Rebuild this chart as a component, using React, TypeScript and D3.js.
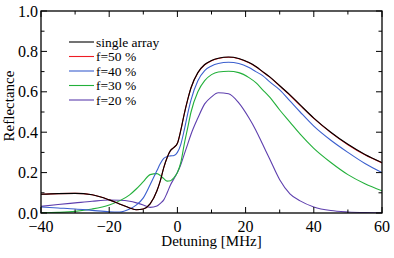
import * as d3 from "d3";

// detuning grid [MHz], shared by every curve
const detuning = [
  -40, -35, -30, -25, -20, -17, -14, -12, -10, -8, -6, -5, -4, -3, -2, -1, 0, 1,
  2, 3, 4, 6, 8, 10, 12, 15, 18, 21, 23, 25, 27, 30, 33, 36, 40, 45, 50, 55, 60,
];

const singleArray = [
  0.093, 0.096, 0.097, 0.09, 0.065, 0.045, 0.025, 0.016, 0.02, 0.045, 0.11,
  0.16, 0.225, 0.275, 0.31, 0.325, 0.345, 0.41, 0.49, 0.56, 0.62, 0.695, 0.735,
  0.755, 0.766, 0.772, 0.765, 0.745, 0.725, 0.7, 0.675, 0.63, 0.585, 0.535,
  0.47, 0.4, 0.34, 0.29, 0.25,
];

const f50 = [
  0.093, 0.096, 0.097, 0.09, 0.065, 0.045, 0.025, 0.016, 0.02, 0.045, 0.11,
  0.16, 0.225, 0.275, 0.31, 0.325, 0.345, 0.41, 0.49, 0.56, 0.62, 0.694, 0.734,
  0.754, 0.765, 0.771, 0.764, 0.744, 0.724, 0.699, 0.674, 0.629, 0.583, 0.533,
  0.468, 0.398, 0.338, 0.288, 0.248,
];

const f40 = [
  0.03, 0.025, 0.02, 0.013, 0.006, 0.005, 0.02, 0.04, 0.075, 0.14, 0.21, 0.245,
  0.27, 0.28, 0.283, 0.285, 0.3, 0.34, 0.41, 0.49, 0.56, 0.655, 0.705, 0.728,
  0.74, 0.746, 0.74, 0.72, 0.7, 0.68, 0.65, 0.61, 0.555, 0.5, 0.43, 0.36, 0.3,
  0.245, 0.2,
];

const f30 = [
  0.001, 0.003, 0.008, 0.02, 0.04, 0.06, 0.09, 0.12, 0.155, 0.19, 0.195, 0.185,
  0.17, 0.158, 0.16, 0.175, 0.2, 0.25, 0.34, 0.42, 0.5, 0.6, 0.655, 0.685,
  0.698, 0.702, 0.695, 0.67, 0.645, 0.61, 0.575, 0.51, 0.45, 0.39, 0.32, 0.25,
  0.19, 0.145, 0.11,
];

const f20 = [
  0.033, 0.042, 0.05, 0.058, 0.064, 0.063, 0.058, 0.05, 0.04, 0.028, 0.035,
  0.048, 0.065, 0.1, 0.14, 0.17, 0.2, 0.24, 0.29, 0.34, 0.39, 0.47, 0.54,
  0.575, 0.595, 0.59, 0.545, 0.47, 0.41, 0.34, 0.27, 0.165, 0.095, 0.06, 0.03,
  0.012, 0.005, 0.002, 0.001,
];

const seriesLabels = ["single array", "f=50 %", "f=40 %", "f=30 %", "f=20 %"];
const seriesValues = [singleArray, f50, f40, f30, f20];
const seriesColors = ["#000000", "#ee1c24", "#3b5fce", "#22b03a", "#5e3fae"];

const xMajor = [-40, -20, 0, 20, 40, 60];
const xMinor = [-30, -10, 10, 30, 50];
const yMajor = [0, 0.2, 0.4, 0.6, 0.8, 1.0];
const yMinor = [0.1, 0.3, 0.5, 0.7, 0.9];

const FONT = '"Liberation Serif"';

const width = 394;
const height = 258;
const margin = { top: 11, right: 12, bottom: 45, left: 41 };
const w = width - margin.left - margin.right;
const h = height - margin.top - margin.bottom;

const x = d3.scaleLinear().domain([-40, 60]).range([0, w]);
const y = d3.scaleLinear().domain([0, 1]).range([h, 0]);

const line = d3
  .line<number>()
  .x((_, i) => x(detuning[i]))
  .y((d) => y(d))
  .curve(d3.curveMonotoneX);

const MAJOR = 6;
const MINOR = 3.5;

const App = () => {
  const txt = { fontFamily: FONT, fill: "#000" };
  return (
    <svg
      width={width}
      height={height}
      style={{ position: "absolute", left: 0, top: 0, background: "#fff" }}
    >
      <defs>
        <clipPath id="plotclip">
          <rect width={w} height={h} />
        </clipPath>
      </defs>
      <g transform={`translate(${margin.left},${margin.top})`}>
        {/* curves: red under black so it only peeks through */}
        <g clipPath="url(#plotclip)">
          {[4, 3, 2, 1, 0].map((k) => (
            <path
              key={k}
              d={line(seriesValues[k]) ?? ""}
              fill="none"
              stroke={seriesColors[k]}
              strokeWidth={1.1}
            />
          ))}
        </g>

        {/* inward ticks on all four sides */}
        <g stroke="#000" strokeWidth={1}>
          {xMajor.map((v) => (
            <g key={`xM${v}`}>
              <line x1={x(v)} x2={x(v)} y1={h} y2={h - MAJOR} />
              <line x1={x(v)} x2={x(v)} y1={0} y2={MAJOR} />
            </g>
          ))}
          {xMinor.map((v) => (
            <g key={`xm${v}`}>
              <line x1={x(v)} x2={x(v)} y1={h} y2={h - MINOR} />
              <line x1={x(v)} x2={x(v)} y1={0} y2={MINOR} />
            </g>
          ))}
          {yMajor.map((v) => (
            <g key={`yM${v}`}>
              <line x1={0} x2={MAJOR} y1={y(v)} y2={y(v)} />
              <line x1={w} x2={w - MAJOR} y1={y(v)} y2={y(v)} />
            </g>
          ))}
          {yMinor.map((v) => (
            <g key={`ym${v}`}>
              <line x1={0} x2={MINOR} y1={y(v)} y2={y(v)} />
              <line x1={w} x2={w - MINOR} y1={y(v)} y2={y(v)} />
            </g>
          ))}
        </g>

        <rect width={w} height={h} fill="none" stroke="#000" strokeWidth={1.3} />

        {/* tick labels */}
        {xMajor.map((v) => (
          <text
            key={`xl${v}`}
            x={x(v)}
            y={h + 19}
            textAnchor="middle"
            style={{ ...txt, fontSize: "16px" }}
          >
            {d3.format("d")(v)}
          </text>
        ))}
        {yMajor.map((v) => (
          <text
            key={`yl${v}`}
            x={-3}
            y={y(v) + 5.5}
            textAnchor="end"
            style={{ ...txt, fontSize: "16px" }}
          >
            {d3.format(".1f")(v)}
          </text>
        ))}

        {/* axis titles */}
        <text x={w / 2} y={h + 33} textAnchor="middle" style={{ ...txt, fontSize: "15px" }}>
          Detuning [MHz]
        </text>
        <text
          transform={`translate(-27,${h / 2 - 6}) rotate(-90)`}
          textAnchor="middle"
          style={{ ...txt, fontSize: "15px" }}
        >
          Reflectance
        </text>

        {/* legend */}
        <g transform="translate(28,31)">
          {seriesLabels.map((label, i) => (
            <g key={label} transform={`translate(0,${i * 14.5})`}>
              <line x1={0} x2={25} stroke={seriesColors[i]} strokeWidth={1.1} />
              <text x={27} y={4.5} style={{ ...txt, fontSize: "13.5px" }}>
                {label}
              </text>
            </g>
          ))}
        </g>
      </g>
    </svg>
  );
};

export default App;
